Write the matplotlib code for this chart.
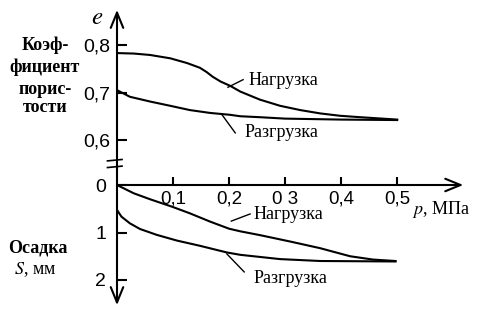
"""Void ratio e and settlement S versus pressure p (loading / unloading)."""

import matplotlib
matplotlib.use("Agg")
import matplotlib.pyplot as plt

plt.rcParams["mathtext.fontset"] = "stix"

# Upper panel: void ratio e versus pressure p, MPa.
p_load_e = [0.0, 0.03, 0.059, 0.095, 0.125, 0.148, 0.16, 0.171, 0.185,
            0.202, 0.22, 0.255, 0.291, 0.327, 0.3625, 0.398, 0.434, 0.5]
e_load = [0.783, 0.782, 0.779, 0.772, 0.762, 0.752, 0.743, 0.733, 0.723,
          0.714, 0.702, 0.685, 0.672, 0.663, 0.656, 0.651, 0.648, 0.643]
p_unload_e = [0.0, 0.023, 0.059, 0.095, 0.13, 0.166, 0.202, 0.22, 0.255,
              0.3, 0.4, 0.5]
e_unload = [0.705, 0.691, 0.681, 0.672, 0.663, 0.657, 0.653, 0.650, 0.648,
            0.645, 0.643, 0.642]

# Lower panel: settlement S, mm versus pressure p, MPa.
p_load_s = [0.0, 0.03, 0.059, 0.098, 0.13, 0.166, 0.2, 0.22, 0.255, 0.309,
            0.3625, 0.416, 0.457, 0.497]
s_load = [0.0, 0.175, 0.30, 0.456, 0.596, 0.77, 0.92, 0.975, 1.055, 1.19,
          1.33, 1.50, 1.57, 1.60]
p_unload_s = [0.0, 0.008, 0.023, 0.041, 0.071, 0.107, 0.148, 0.196, 0.22,
              0.291, 0.3625, 0.497]
s_unload = [0.526, 0.667, 0.807, 0.926, 1.05, 1.17, 1.28, 1.42, 1.47,
            1.56, 1.60, 1.61]

p_ticks = [0.1, 0.2, 0.3, 0.4, 0.5]
p_tick_labels = ["0,1", "0,2", "0 3", "0,4", "0,5"]
e_ticks = [0.6, 0.7, 0.8]
e_tick_labels = ["0,6", "0,7", "0,8"]
s_ticks = [0, 1, 2]
s_tick_labels = ["0", "1", "2"]

SERIF = "Liberation Serif"
SANS = "Liberation Sans"
LW = 1.5
W, H = 482, 310

fig = plt.figure(figsize=(W / 100, H / 100), dpi=100)


def frac(x_px, y_px):
    return x_px / W, 1 - y_px / H


# axes rectangles in pixels: left 117, right 470
ax_e = fig.add_axes([117 / W, 1 - 168.5 / H, 353 / W, 161.5 / H])
ax_s = fig.add_axes([117 / W, 1 - 308.5 / H, 353 / W, 142.5 / H])
for ax in (ax_e, ax_s):
    ax.set_facecolor("none")
    for sp in ax.spines.values():
        sp.set_visible(False)
    ax.set_xlim(0, 0.63)

arrow = dict(arrowstyle="->,head_length=1.1,head_width=0.45", lw=LW,
             color="black", shrinkA=0, shrinkB=0)

# --- upper panel
ax_e.set_ylim(0.54, 0.88)
ax_e.set_xticks([])
ax_e.set_yticks(e_ticks, e_tick_labels)
ax_e.tick_params(axis="y", direction="in", length=7, width=LW, pad=5,
                 labelsize=14)
for t in ax_e.get_yticklabels():
    t.set_fontfamily(SANS)
ax_e.annotate("", xy=(0, 0.874), xytext=(0, 0.545), arrowprops=arrow,
              annotation_clip=False)
ax_e.plot(p_load_e, e_load, color="black", lw=LW)
ax_e.plot(p_unload_e, e_unload, color="black", lw=LW)
# axis break marks
ax_e.plot([-0.017, 0.009], [0.556, 0.559], color="black", lw=1.2, clip_on=False)
ax_e.plot([-0.017, 0.009], [0.542, 0.545], color="black", lw=1.2, clip_on=False)
# leaders and labels
ax_e.plot([0.198, 0.225], [0.711, 0.727], color="black", lw=1.0)
ax_e.plot([0.1875, 0.211], [0.653, 0.615], color="black", lw=1.0)
ax_e.text(0.234, 0.726, "Нагрузка", family=SERIF, fontsize=13,
          ha="left", va="center")
ax_e.text(0.227, 0.615, "Разгрузка", family=SERIF, fontsize=13,
          ha="left", va="center")

# --- lower panel
ax_s.set_ylim(2.6, -0.4)
ax_s.spines["bottom"].set_position(("data", 0))
ax_s.set_xticks(p_ticks, p_tick_labels)
ax_s.set_yticks(s_ticks, s_tick_labels)
ax_s.tick_params(axis="x", direction="in", length=6, width=LW, pad=4,
                 labelsize=13.5)
ax_s.tick_params(axis="y", direction="in", length=7, width=LW, pad=8,
                 labelsize=14)
for t in ax_s.get_xticklabels() + ax_s.get_yticklabels():
    t.set_fontfamily(SANS)
ax_s.annotate("", xy=(0, 2.53), xytext=(0, -0.4), arrowprops=arrow,
              annotation_clip=False)
ax_s.annotate("", xy=(0.618, 0), xytext=(0, 0), arrowprops=arrow,
              annotation_clip=False)
ax_s.plot(p_load_s, s_load, color="black", lw=LW)
ax_s.plot(p_unload_s, s_unload, color="black", lw=LW)
ax_s.plot([0.204, 0.2375], [0.76, 0.61], color="black", lw=1.0)
ax_s.plot([0.196, 0.227], [1.45, 1.83], color="black", lw=1.0)
ax_s.text(0.243, 0.63, "Нагрузка", family=SERIF, fontsize=13,
          ha="left", va="center")
ax_s.text(0.243, 1.96, "Разгрузка", family=SERIF, fontsize=13,
          ha="left", va="center")

# --- axis titles
fig.text(*frac(97, 17), r"$e$", fontsize=18, ha="center", va="center")
fig.text(*frac(412, 210), r"$p$, МПа", family=SERIF, fontsize=13,
         ha="left", va="center")
for txt, y in (("Коэф-", 45), ("фициент", 67), ("порис-", 89), ("тости", 108)):
    fig.text(*frac(45, y), txt, family=SERIF, fontsize=13, weight="bold",
             ha="center", va="center")
fig.text(*frac(38, 248), "Осадка", family=SERIF, fontsize=13, weight="bold",
         ha="center", va="center")
fig.text(*frac(35, 270), r"$S$, мм", family=SERIF, fontsize=13,
         ha="center", va="center")

fig.savefig("out.png", dpi=100)
